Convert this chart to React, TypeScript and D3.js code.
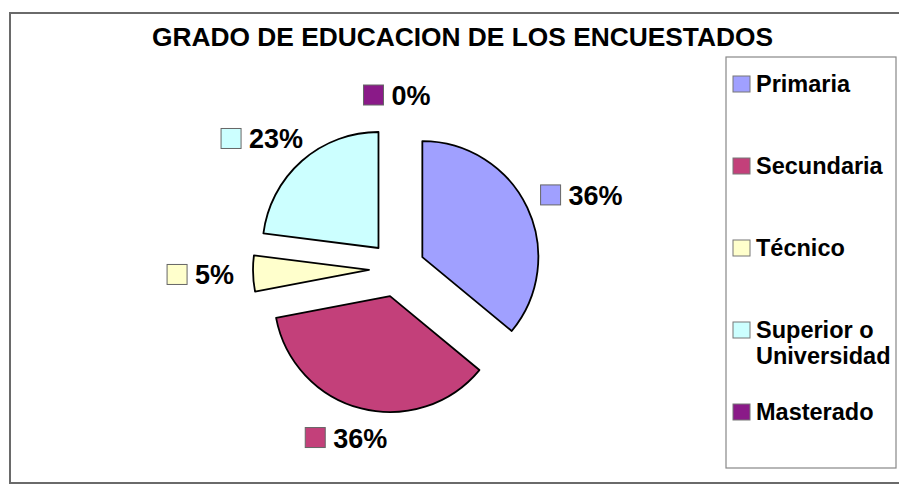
import React from "react";
import * as d3 from "d3";

const categories = ["Primaria", "Secundaria", "Técnico", "Superior o Universidad", "Masterado"];
const legendLines = [["Primaria"], ["Secundaria"], ["Técnico"], ["Superior o", "Universidad"], ["Masterado"]];
const values = [36, 36, 5, 23, 0];
const labelTexts = ["36%", "36%", "5%", "23%", "0%"];
const colors = ["#A0A0FF", "#C3407A", "#FFFFCC", "#CCFFFF", "#8A1A88"];
const title = "GRADO DE EDUCACION DE LOS ENCUESTADOS";

const W = 899;
const H = 489;
const FONT = "'Liberation Sans', Arial, Helvetica, sans-serif";

function measure(text: string, size: number): number {
  if (typeof document === "undefined") return text.length * size * 0.6;
  const c = document.createElement("canvas");
  const ctx = c.getContext("2d");
  if (!ctx) return text.length * size * 0.6;
  ctx.font = `bold ${size}px 'Liberation Sans', Arial, sans-serif`;
  return ctx.measureText(text).width;
}

export default function App() {
  const cx = 397;
  const cy = 269;
  const radius = 116;
  const explode = 28;
  const labelR = 163;
  const labelFont = 27;
  const markerSize = 20;
  const markerGap = 8;

  const data = categories.map((c, i) => ({ name: c, value: values[i], label: labelTexts[i], color: colors[i] }));
  const pie = d3
    .pie<any>()
    .sort(null)
    .value((d: any) => d.value)
    .startAngle(0)
    .endAngle(2 * Math.PI);
  const arcs = pie(data);
  const arc = d3.arc<any>().innerRadius(0).outerRadius(radius);

  const legendX = 726;
  const legendY = 57;
  const legendW = 170;
  const legendH = 411;
  const legendStart = 92;
  const legendStep = 82;
  const legendFont = 23.5;

  return (
    <svg
      width={W}
      height={H}
      style={{ position: "absolute", left: 0, top: 0, background: "#fff" }}
      fontFamily={FONT}
    >
      <rect x={0} y={0} width={W} height={H} fill="#fff" />
      <rect x={10} y={13} width={W + 10} height={470} fill="#fff" stroke="#6a6a6a" strokeWidth={2} />
      <text
        x={462.5}
        y={46}
        textAnchor="middle"
        fontSize={26}
        fontWeight="bold"
        textLength={621}
        lengthAdjust="spacingAndGlyphs"
        fill="#000"
      >
        {title}
      </text>

      <g>
        {arcs
          .filter((a) => a.data.value > 0)
          .map((a, i) => {
            const mid = (a.startAngle + a.endAngle) / 2;
            const dx = Math.sin(mid) * explode;
            const dy = -Math.cos(mid) * explode;
            return (
              <path
                key={i}
                d={arc(a) as string}
                transform={`translate(${cx + dx},${cy + dy})`}
                fill={a.data.color}
                stroke="#000"
                strokeWidth={1.8}
                strokeLinejoin="round"
              />
            );
          })}
      </g>

      <g>
        {arcs.map((a, i) => {
          const mid = (a.startAngle + a.endAngle) / 2;
          const s = Math.sin(mid);
          const c = Math.cos(mid);
          const tw = measure(a.data.label, labelFont);
          const w = markerSize + markerGap + tw;
          const h = 22;
          const ax = cx + s * labelR;
          const ay = cy - c * labelR;
          const lcx = ax + (s * w) / 2;
          const lcy = ay - (c * h) / 2;
          const left = lcx - w / 2;
          return (
            <g key={i}>
              <rect
                x={left}
                y={lcy - markerSize / 2}
                width={markerSize}
                height={markerSize}
                fill={a.data.color}
                stroke="#666"
                strokeWidth={1}
              />
              <text
                x={left + markerSize + markerGap}
                y={lcy + 10}
                fontSize={labelFont}
                fontWeight="bold"
                fill="#000"
              >
                {a.data.label}
              </text>
            </g>
          );
        })}
      </g>

      <g>
        <rect x={legendX} y={legendY} width={legendW} height={legendH} fill="#fff" stroke="#888" strokeWidth={1.2} />
        {legendLines.map((lines, i) => {
          const by = legendStart + i * legendStep;
          return (
            <g key={i}>
              <rect x={733} y={by - 16} width={17} height={16} fill={colors[i]} stroke="#777" strokeWidth={1} />
              {lines.map((ln, j) => (
                <text key={j} x={756} y={by + j * 26} fontSize={legendFont} fontWeight="bold" fill="#000">
                  {ln}
                </text>
              ))}
            </g>
          );
        })}
      </g>
    </svg>
  );
}
